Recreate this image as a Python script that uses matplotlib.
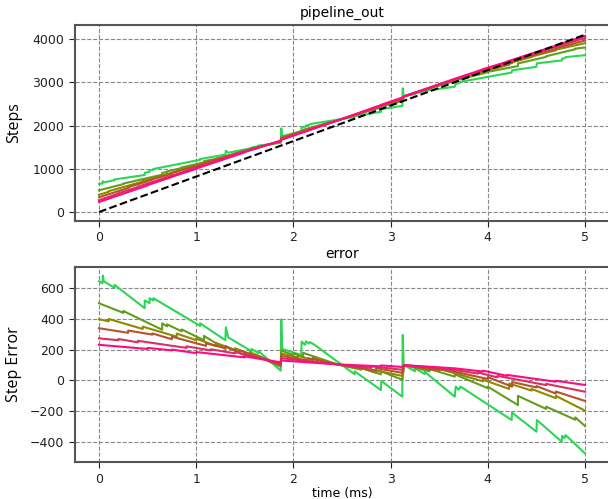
import matplotlib.pyplot as plt
import numpy as np

# reference (ideal) step count, straight line
ref_t = [0.0, 5.0]
ref_steps = [0.0, 4100.0]

# step error of each pipeline (vertical pairs = jumps)
t_green = [0.00, 0.035, 0.04, 0.05, 0.16, 0.16, 0.47, 0.47, 0.52, 0.52, 0.56, 0.56,
           1.04, 1.04, 1.30, 1.305, 1.33, 1.57, 1.57, 1.64, 1.64, 1.87, 1.875, 1.885,
           2.08, 2.085, 2.12, 2.13, 2.16, 2.17, 2.22, 2.63, 2.63, 2.90, 2.905, 3.12,
           3.125, 3.135, 3.25, 3.25, 3.35, 3.35, 3.66, 3.67, 3.70, 3.72, 3.80, 4.245,
           4.25, 4.50, 4.505, 4.76, 4.765, 4.79, 4.80, 5.00]
e_green = [646, 633, 682, 645, 602, 622, 470, 520, 503, 535, 520, 535,
           355, 372, 262, 346, 280, 190, 205, 178, 192, 64, 398, 205,
           166, 253, 232, 255, 240, 250, 231, 40, 60, -62, -3, -105,
           296, 101, 60, 80, 42, 57, -105, -40, -60, -40, -73, -257,
           -209, -333, -257, -398, -360, -375, -355, -474]

t_yg = [0.00, 0.25, 0.25, 0.65, 0.65, 0.70, 0.70, 0.85, 0.85, 1.08, 1.08, 1.30, 1.30,
        1.50, 1.50, 1.62, 1.62, 1.87, 1.875, 2.00, 2.00, 2.10, 2.10, 2.45, 2.70, 2.70,
        2.90, 2.90, 3.12, 3.14, 3.40, 3.40, 3.66, 3.66, 4.00, 4.00, 4.31, 4.31, 4.60,
        4.60, 4.90, 4.90, 5.00]
e_yg = [502, 440, 452, 330, 372, 352, 365, 320, 332, 262, 290, 205, 225,
        162, 180, 145, 160, 90, 195, 165, 178, 150, 180, 105, 70, 82,
        40, 60, 5, 100, 60, 75, 25, 40, -50, -40, -160, -100, -185,
        -170, -255, -240, -296]

t_olive = [0.00, 0.10, 0.10, 0.45, 0.45, 0.80, 0.80, 1.00, 1.00, 1.20, 1.20, 1.40, 1.40,
           1.55, 1.55, 1.87, 1.875, 2.05, 2.05, 2.20, 2.20, 2.45, 2.65, 2.65, 2.85, 2.85,
           3.12, 3.14, 3.50, 3.50, 3.66, 3.95, 3.95, 4.22, 4.22, 4.45, 4.45, 4.70, 4.70,
           5.00]
e_olive = [398, 385, 400, 335, 350, 285, 305, 262, 272, 225, 245, 198, 210,
           170, 185, 100, 175, 150, 162, 130, 150, 105, 80, 90, 50, 65,
           30, 100, 62, 75, 47, -5, 5, -55, -20, -65, -55, -115, -100,
           -196]

t_brown = [0.00, 0.30, 0.30, 0.55, 0.55, 0.75, 0.75, 1.10, 1.10, 1.30, 1.30, 1.45, 1.45,
           1.87, 1.875, 2.15, 2.15, 2.45, 2.85, 2.85, 3.12, 3.14, 3.45, 3.45, 3.66, 4.00,
           4.00, 4.25, 4.25, 4.50, 4.50, 4.70, 4.70, 5.00]
e_brown = [340, 310, 325, 298, 306, 268, 285, 225, 242, 210, 220, 182, 196,
           100, 160, 130, 145, 105, 65, 80, 50, 100, 70, 78, 57, 10,
           22, -40, -10, -45, -36, -85, -72, -133]

t_crimson = [0.00, 0.20, 0.20, 0.40, 0.40, 0.90, 0.90, 1.15, 1.15, 1.40, 1.40, 1.87,
             1.875, 2.45, 2.80, 2.80, 3.12, 3.14, 3.66, 3.90, 3.90, 4.10, 4.10, 4.60,
             4.60, 5.00]
e_crimson = [274, 262, 270, 248, 258, 212, 222, 196, 203, 176, 185, 110,
             145, 105, 82, 92, 70, 100, 68, 45, 52, 20, 30, -30,
             -22, -73]

t_pink = [0.00, 0.50, 0.50, 0.75, 0.75, 1.00, 1.00, 1.50, 1.50, 1.87, 1.875, 2.45,
          2.90, 2.90, 3.12, 3.14, 3.66, 3.95, 3.95, 4.20, 4.20, 4.70, 4.70, 5.00]
e_pink = [232, 205, 212, 196, 201, 178, 185, 150, 157, 118, 130, 105,
          92, 98, 88, 100, 79, 58, 64, 30, 36, -8, -2, -29]

series = [
    (t_green, e_green, '#2bd656'),
    (t_yg, e_yg, '#619e1f'),
    (t_olive, e_olive, '#8c8a00'),
    (t_brown, e_brown, '#b4532e'),
    (t_crimson, e_crimson, '#d8305f'),
    (t_pink, e_pink, '#ff0a82'),
]

fig = plt.figure(figsize=(6.08, 4.99), dpi=100)
ax1 = fig.add_axes([74.7 / 608, 1 - 221 / 499, 534.6 / 608, 196 / 499])
ax2 = fig.add_axes([74.7 / 608, 1 - 462.3 / 499, 534.6 / 608, 195.6 / 499])

for t, e, c in series:
    t = np.array(t)
    e = np.array(e, dtype=float)
    ax1.plot(t, np.interp(t, ref_t, ref_steps) + e, color=c, lw=1.5)
    ax2.plot(t, e, color=c, lw=1.5)
ax1.plot(ref_t, ref_steps, 'k--', lw=1.5)

ax1.set_xlim(-0.25, 5.25)
ax2.set_xlim(-0.25, 5.25)
ax1.set_ylim(-208, 4324)
ax2.set_ylim(-532, 740)
ax1.set_yticks([0, 1000, 2000, 3000, 4000])
ax2.set_yticks([-400, -200, 0, 200, 400, 600])

ax1.set_title('pipeline_out', fontsize=10)
ax2.set_title('error', fontsize=10)
ax1.set_ylabel('Steps', fontsize=11.5, family='Open Sans')
ax2.set_ylabel('Step Error', fontsize=11.5, family='Open Sans')
ax2.set_xlabel('time (ms)', fontsize=9, labelpad=1)
ax1.yaxis.set_label_coords(-0.098, 0.5)
ax2.yaxis.set_label_coords(-0.098, 0.5)

for ax in (ax1, ax2):
    ax.grid(True, ls='--', color='#888888', lw=0.8)
    ax.tick_params(labelsize=9, colors='#222222', length=4)
    for sp in ax.spines.values():
        sp.set_color('#555555')
        sp.set_linewidth(1.5)

fig.savefig('out.png', dpi=100)
